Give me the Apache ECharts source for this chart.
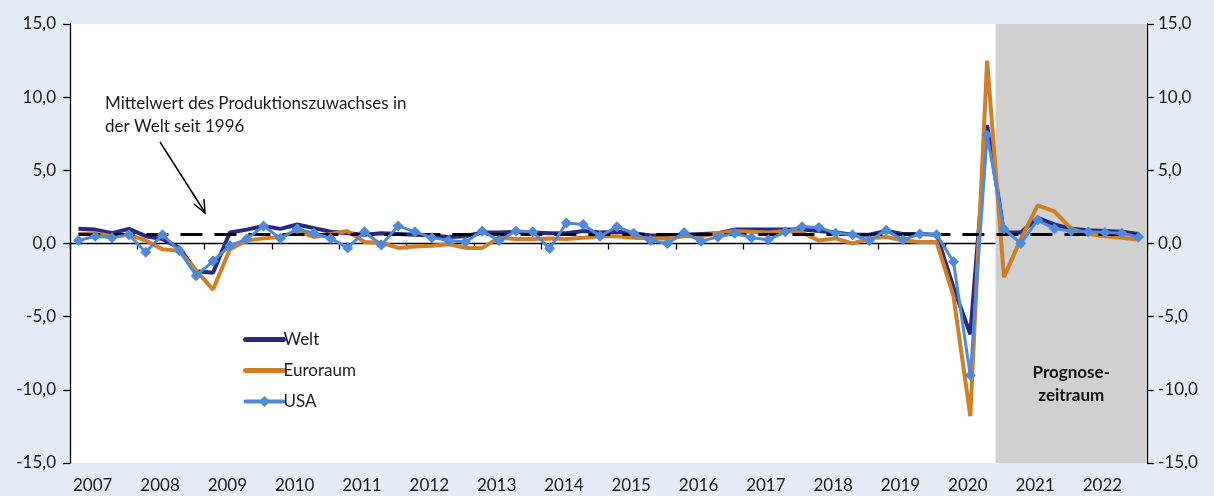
<!DOCTYPE html>
<html>
<head>
<meta charset="utf-8">
<script src="https://cdn.jsdelivr.net/npm/echarts@6/dist/echarts.min.js"></script>
<style>
  html, body { margin: 0; padding: 0; background: #e4eaf6; }
  #chart { width: 1214px; height: 496px; }
</style>
</head>
<body>
<div id="chart"></div>
<script>
// Quartalsdaten 2007 Q1 bis 2022 Q4, Veränderung gegenüber Vorquartal in %
var years = [2007, 2008, 2009, 2010, 2011, 2012, 2013, 2014, 2015, 2016, 2017, 2018, 2019, 2020, 2021, 2022];
var welt = [
  1.0, 0.95, 0.7, 1.0,   0.5, 0.3, -0.3, -1.9,   -2.0, 0.75, 0.95, 1.2,   1.0, 1.3, 1.05, 0.8,
  0.7, 0.6, 0.7, 0.65,   0.6, 0.55, 0.45, 0.5,   0.75, 0.75, 0.8, 0.75,   0.7, 0.7, 0.85, 0.75,
  0.8, 0.7, 0.55, 0.55,  0.6, 0.65, 0.7, 0.95,   0.95, 0.95, 0.95, 0.95,  0.85, 0.75, 0.6, 0.6,
  0.85, 0.65, 0.65, 0.6, -3.0, -6.2, 8.1, 0.75,  0.75, 1.75, 1.3, 1.0,    0.9, 0.85, 0.8, 0.65
];
var euroraum = [
  0.65, 0.7, 0.5, 0.6,   0.2, -0.4, -0.5, -1.85, -3.15, -0.4, 0.2, 0.35, 0.45, 0.85, 0.45, 0.65,
  0.85, 0.1, 0.05, -0.3, -0.2, -0.15, -0.05, -0.3, -0.3, 0.4, 0.3, 0.3,   0.35, 0.3, 0.4, 0.5,
  0.5, 0.4, 0.35, 0.35,  0.5, 0.5, 0.7, 0.85,    0.8, 0.75, 0.85, 0.75,   0.2, 0.35, 0.0, 0.35,
  0.45, 0.2, 0.1, 0.1,   -3.6, -11.8, 12.5, -2.3, 0.3, 2.6, 2.2, 1.0,     0.65, 0.5, 0.4, 0.25
];
var usa = [
  0.2, 0.5, 0.4, 0.6,    -0.6, 0.6, -0.5, -2.2,  -1.2, -0.15, 0.3, 1.2,   0.35, 1.0, 0.7, 0.35,
  -0.3, 0.8, -0.1, 1.2,  0.8, 0.4, 0.2, 0.1,     0.85, 0.2, 0.85, 0.8,    -0.35, 1.4, 1.3, 0.5,
  1.15, 0.7, 0.2, 0.0,   0.75, 0.15, 0.45, 0.7,  0.4, 0.25, 0.8, 1.15,    1.1, 0.7, 0.6, 0.2,
  0.9, 0.25, 0.65, 0.6,  -1.25, -9.0, 7.4, 1.0,  0.0, 1.6, 1.0, 0.85,     0.8, 0.75, 0.7, 0.45
];
var mittelwert = 0.6;          // Mittelwert des Produktionszuwachses seit 1996
var prognoseStart = 55;        // ab 2020 Q4

var font = 'Lato';
var txt = '#1a1a1a';

function toPoints(arr) {
  return arr.map(function (v, i) { return [i + 0.5, v]; });
}
function fmt(v) {
  return v.toFixed(1).replace('.', ',');
}

var chart = echarts.init(document.getElementById('chart'));
chart.setOption({
  backgroundColor: '#e4eaf6',
  animation: false,
  textStyle: { fontFamily: font, color: txt },
  grid: {
    left: 70, right: 67, top: 24, bottom: 33,
    show: true, backgroundColor: '#ffffff', borderWidth: 0
  },
  legend: {
    orient: 'vertical',
    left: 238, top: 326,
    itemWidth: 38, itemHeight: 14, itemGap: 14,
    data: [
      { name: 'Welt', itemStyle: { opacity: 0 }, lineStyle: { width: 5, cap: 'round' } },
      { name: 'Euroraum', itemStyle: { opacity: 0 }, lineStyle: { width: 5, cap: 'round' } },
      { name: 'USA', lineStyle: { width: 4, cap: 'round' } }
    ],
    textStyle: { fontFamily: font, fontSize: 17, color: txt, padding: [0, 0, 0, -5] }
  },
  xAxis: [
    {
      type: 'value', position: 'bottom', min: 0, max: 64, interval: 4,
      axisLine: { onZero: true, lineStyle: { color: '#000', width: 1.3 } },
      axisTick: { show: true, length: 6, lineStyle: { color: '#000', width: 1.3 } },
      axisLabel: { show: false },
      splitLine: { show: false }
    },
    {
      type: 'value', position: 'bottom', min: 0, max: 64, interval: 4,
      axisLine: { show: false, onZero: false },
      axisTick: { show: false },
      splitLine: { show: false },
      axisLabel: {
        margin: 14, fontSize: 17, color: txt, fontFamily: font,
        align: 'left', padding: [0, 0, 0, 3],
        formatter: function (v) { return v < 64 ? String(years[v / 4]) : ''; }
      }
    }
  ],
  yAxis: [
    {
      type: 'value', position: 'left', min: -15, max: 15, interval: 5,
      axisLine: { show: true, onZero: false, lineStyle: { color: '#000', width: 1.3 } },
      axisTick: { show: true, length: 7, lineStyle: { color: '#000', width: 1.3 } },
      axisLabel: { margin: 14, fontSize: 17, color: txt, fontFamily: font, formatter: fmt },
      splitLine: { show: false }
    },
    {
      type: 'value', position: 'right', min: -15, max: 15, interval: 5,
      axisLine: { show: true, onZero: false, lineStyle: { color: '#000', width: 1.3 } },
      axisTick: { show: true, length: 7, lineStyle: { color: '#000', width: 1.3 } },
      axisLabel: { margin: 11, fontSize: 17, color: txt, fontFamily: font, formatter: fmt },
      splitLine: { show: false }
    }
  ],
  series: [
    {
      name: 'Welt', type: 'line', data: toPoints(welt),
      symbol: 'none', color: '#262a80',
      lineStyle: { width: 4, color: '#262a80' },
      markArea: {
        silent: true,
        itemStyle: { color: '#d0d0d0' },
        label: {
          show: true, position: 'insideBottom', distance: 56,
          formatter: 'Prognose-\nzeitraum',
          fontFamily: font, fontSize: 17, fontWeight: 'bold', color: '#111', lineHeight: 23
        },
        data: [[{ xAxis: prognoseStart }, { xAxis: 64 }]]
      }
    },
    {
      name: 'Euroraum', type: 'line', data: toPoints(euroraum),
      symbol: 'none', color: '#d07f27',
      lineStyle: { width: 4, color: '#d07f27' },
      markLine: {
        silent: true, symbol: 'none',
        lineStyle: { color: '#000', width: 3, type: [22, 12] },
        label: { show: false },
        data: [[{ coord: [0.5, mittelwert] }, { coord: [63.5, mittelwert] }]]
      }
    },
    {
      name: 'USA', type: 'line', data: toPoints(usa),
      symbol: 'diamond', symbolSize: 11, color: '#4f8ad8',
      lineStyle: { width: 3, color: '#4f8ad8' },
      itemStyle: { color: '#4f8ad8' },
      z: 6
    }
  ],
  graphic: [
    {
      type: 'text', left: 105, top: 92,
      style: {
        text: 'Mittelwert des Produktionszuwachses in\nder Welt seit 1996',
        fontFamily: font, fontSize: 17, fill: txt, lineHeight: 23
      }
    },
    {
      type: 'line',
      shape: { x1: 160, y1: 142, x2: 204, y2: 211 },
      style: { stroke: '#000', lineWidth: 1.5 }
    },
    {
      type: 'polyline',
      shape: { points: [[194, 204], [205, 213], [204, 199]] },
      style: { stroke: '#000', lineWidth: 1.5, fill: null }
    }
  ]
});
</script>
</body>
</html>
